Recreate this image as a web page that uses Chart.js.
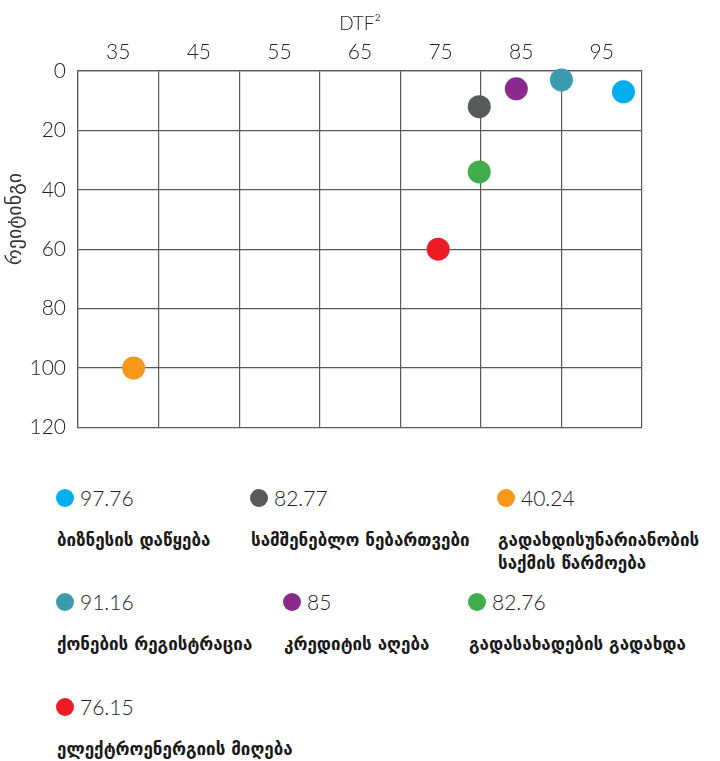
<!DOCTYPE html>
<html>
<head>
<meta charset="utf-8">
<script src="https://cdn.jsdelivr.net/npm/chart.js@4.4.1/dist/chart.umd.min.js"></script>
<style>
  html, body { margin: 0; padding: 0; background: #fff; }
  #wrap { position: relative; width: 720px; height: 761px; overflow: hidden; }
  #c { position: absolute; left: 0; top: 0; }
  .dot { position: absolute; width: 18px; height: 18px; border-radius: 50%; }
  .val { position: absolute; font-family: Lato, "Liberation Sans", sans-serif; font-weight: 300; font-size: 21px; color: #222; line-height: 24px; white-space: nowrap; }
  .lab { position: absolute; font-family: "DejaVu Sans", sans-serif; font-weight: bold; font-size: 17px; color: #1a1a1a; line-height: 23px; }
</style>
</head>
<body>
<div id="wrap">
  <canvas id="c" width="720" height="452"></canvas>
  <div id="legend"></div>
</div>
<script>
// ---- data ----
const indicators = [
  "ბიზნესის დაწყება",
  "სამშენებლო ნებართვები",
  "გადახდისუნარიანობის საქმის წარმოება",
  "ქონების რეგისტრაცია",
  "კრედიტის აღება",
  "გადასახადების გადახდა",
  "ელექტროენერგიის მიღება"
];
const dtfScores = ["97.76", "82.77", "40.24", "91.16", "85", "82.76", "76.15"];
const dtfPositions = [97.7, 79.8, 36.9, 90.0, 84.4, 79.8, 74.7];
const ranks = [7, 12, 100, 3, 6, 34, 60];
const colors = ["#00AEEF", "#58595B", "#F7981D", "#3A9BAF", "#8A2A8F", "#3FAE4A", "#ED1C24"];
const xTickLabels = [35, 45, 55, 65, 75, 85, 95];
const yTickLabels = [0, 20, 40, 60, 80, 100, 120];
const xTitle = "DTF²";
const yTitle = "რეიტინგი";

// ---- layout (not data) ----
const legendLayout = [
  {x: 56, y: 489, lw: 190}, {x: 250, y: 489, lw: 240}, {x: 497, y: 489, lw: 215},
  {x: 56, y: 593, lw: 220}, {x: 283, y: 593, lw: 180}, {x: 468, y: 593, lw: 240},
  {x: 56, y: 698, lw: 300}
];

const points = dtfPositions.map((v, i) => ({x: v, y: ranks[i]}));

const yTitlePlugin = {
  id: 'yTitle',
  afterDraw(chart) {
    const ctx = chart.ctx;
    ctx.save();
    ctx.translate(16, 219);
    ctx.rotate(-Math.PI / 2);
    ctx.font = '20px "DejaVu Sans", sans-serif';
    ctx.fillStyle = '#333';
    ctx.textAlign = 'center';
    ctx.textBaseline = 'middle';
    ctx.fillText(yTitle, 0, 0);
    ctx.restore();
  }
};

const tickFont = {family: 'Lato, "Liberation Sans", sans-serif', size: 21, weight: 300};

new Chart(document.getElementById('c'), {
  type: 'scatter',
  data: {
    datasets: [{
      data: points,
      pointRadius: 11.5,
      pointHoverRadius: 11.5,
      pointBackgroundColor: colors,
      pointBorderWidth: 0,
      borderWidth: 0,
      clip: false
    }]
  },
  options: {
    responsive: false,
    animation: false,
    events: [],
    layout: {padding: {left: 0, right: 78, top: 0, bottom: 0}},
    plugins: {legend: {display: false}, tooltip: {enabled: false}},
    scales: {
      x: {
        type: 'linear',
        position: 'top',
        min: 30, max: 100,
        afterFit: s => { s.height = 71; },
        afterBuildTicks: s => {
          const t = [];
          for (let v = 30; v <= 100; v += 5) t.push({value: v});
          s.ticks = t;
        },
        ticks: {
          autoSkip: false,
          maxRotation: 0,
          padding: 6,
          color: '#222',
          font: tickFont,
          callback: v => xTickLabels.includes(v) ? String(v) : ''
        },
        grid: {
          drawTicks: false,
          lineWidth: 1.2,
          color: ctx => (ctx.tick && ctx.tick.value % 10 === 0) ? '#5a5a5a' : 'rgba(0,0,0,0)'
        },
        border: {display: true, color: '#5a5a5a', width: 1.2},
        title: {
          display: true,
          text: xTitle,
          color: '#222',
          font: {family: 'Lato, "Liberation Sans", sans-serif', size: 19, weight: 300},
          padding: {top: 12, bottom: 0}
        }
      },
      y: {
        type: 'linear',
        reverse: true,
        min: 0, max: 120,
        afterFit: s => { s.width = 78; },
        afterBuildTicks: s => { s.ticks = yTickLabels.map(v => ({value: v})); },
        ticks: {
          autoSkip: false,
          padding: 12,
          color: '#222',
          font: tickFont
        },
        grid: {drawTicks: false, color: '#5a5a5a', lineWidth: 1.2},
        border: {display: true, color: '#5a5a5a', width: 1.2}
      }
    }
  },
  plugins: [yTitlePlugin]
});

// ---- HTML legend ----
const legend = document.getElementById('legend');
indicators.forEach((name, i) => {
  const L = legendLayout[i];
  const dot = document.createElement('div');
  dot.className = 'dot';
  dot.style.left = L.x + 'px';
  dot.style.top = L.y + 'px';
  dot.style.background = colors[i];
  legend.appendChild(dot);
  const val = document.createElement('div');
  val.className = 'val';
  val.style.left = (L.x + 24) + 'px';
  val.style.top = (L.y - 3) + 'px';
  val.textContent = dtfScores[i];
  legend.appendChild(val);
  const lab = document.createElement('div');
  lab.className = 'lab';
  lab.style.left = (L.x + 1) + 'px';
  lab.style.top = (L.y + 40) + 'px';
  lab.style.width = L.lw + 'px';
  lab.textContent = name;
  legend.appendChild(lab);
});
</script>
</body>
</html>
